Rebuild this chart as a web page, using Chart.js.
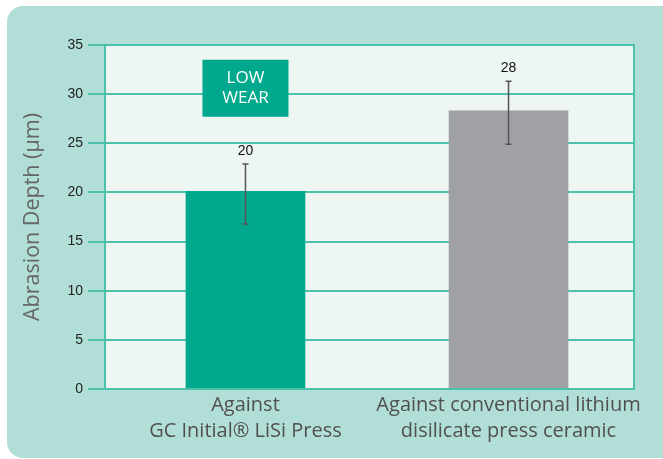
<!DOCTYPE html>
<html>
<head>
<meta charset="utf-8">
<script src="https://cdn.jsdelivr.net/npm/chart.js@4.4.1/dist/chart.umd.min.js"></script>
<style>
  html, body { margin: 0; padding: 0; background: #fff; }
  .panel {
    position: absolute; left: 7px; top: 6px; width: 680px; height: 452px;
    background: #b2ded8; border-radius: 16px;
  }
  .wrap { position: absolute; left: 0; top: 0; width: 663px; height: 459px; }
</style>
</head>
<body>
<div class="panel"></div>
<div class="wrap"><canvas id="chart" width="663" height="459"></canvas></div>
<script>
const categories = [
  ['Against', 'GC Initial\u00AE LiSi Press'],
  ['Against conventional lithium', 'disilicate press ceramic']
];
const depth = [20.1, 28.3];
const errLow = [16.8, 24.9];
const errHigh = [22.9, 31.3];
const valueLabels = ['20', '28'];
const barColors = ['#00a88e', '#a0a1a5'];
const yTicks = [0, 5, 10, 15, 20, 25, 30, 35];

const teal = '#4cc2ab';

// plot background, frame, error bars, value labels and the LOW WEAR badge
const extras = {
  id: 'extras',
  beforeDraw(chart) {
    const { ctx, chartArea: a } = chart;
    ctx.save();
    ctx.fillStyle = '#edf6f3';
    ctx.fillRect(a.left, a.top, a.right - a.left, a.bottom - a.top);
    ctx.restore();
  },
  afterDatasetsDraw(chart) {
    const { ctx, chartArea: a, scales: { x, y } } = chart;
    ctx.save();
    ctx.strokeStyle = teal;
    ctx.lineWidth = 2;
    ctx.strokeRect(a.left, a.top, a.right - a.left, a.bottom - a.top);

    ctx.strokeStyle = '#555';
    ctx.lineWidth = 1.5;
    depth.forEach((v, i) => {
      const px = x.getPixelForValue(i);
      const hi = y.getPixelForValue(errHigh[i]);
      const lo = y.getPixelForValue(errLow[i]);
      ctx.beginPath();
      ctx.moveTo(px, hi); ctx.lineTo(px, lo);
      ctx.moveTo(px - 3, hi); ctx.lineTo(px + 3, hi);
      ctx.moveTo(px - 3, lo); ctx.lineTo(px + 3, lo);
      ctx.stroke();
      ctx.fillStyle = '#111';
      ctx.font = '14px "Liberation Sans", Arial, sans-serif';
      ctx.textAlign = 'center';
      ctx.textBaseline = 'middle';
      ctx.fillText(valueLabels[i], px, hi - 13);
    });

    const bx = x.getPixelForValue(0);
    const by = y.getPixelForValue(30.6);
    ctx.fillStyle = '#00a88e';
    ctx.fillRect(bx - 43, by - 28.5, 86, 57);
    ctx.fillStyle = '#fff';
    ctx.font = '17px "Open Sans", sans-serif';
    ctx.fillText('LOW', bx, by - 10);
    ctx.fillText('WEAR', bx, by + 10);
    ctx.restore();
  }
};

new Chart(document.getElementById('chart'), {
  type: 'bar',
  data: {
    datasets: [{
      data: depth.map((v, i) => ({ x: i, y: v })),
      backgroundColor: barColors,
      barThickness: 119,
      borderWidth: 0
    }]
  },
  options: {
    responsive: false,
    animation: false,
    layout: { padding: { top: 45, right: 29, left: 0, bottom: 0 } },
    plugins: { legend: { display: false }, tooltip: { enabled: false } },
    scales: {
      x: {
        type: 'linear',
        offset: false,
        min: -0.534,
        max: 1.477,
        afterBuildTicks(axis) { axis.ticks = [{ value: 0 }, { value: 1 }]; },
        afterFit(axis) { axis.height = 70; },
        grid: { display: false, offset: false },
        border: { display: false },
        ticks: {
          callback: (v) => categories[v],
          color: '#505050',
          font: { family: 'Open Sans', size: 20, lineHeight: 1.3 },
          padding: -5,
          maxRotation: 0,
          autoSkip: false
        }
      },
      y: {
        min: 0,
        max: 35,
        afterBuildTicks(axis) { axis.ticks = yTicks.map(v => ({ value: v })); },
        afterFit(axis) { axis.width = 105; },
        grid: { color: teal, lineWidth: 2, tickLength: 17 },
        border: { color: teal, width: 2 },
        ticks: {
          color: '#222',
          font: { family: 'Liberation Sans', size: 14 },
          padding: 5
        },
        title: {
          display: true,
          text: 'Abrasion Depth (\u00B5m)',
          color: '#666',
          font: { family: 'Open Sans', size: 21.5 },
          padding: { top: 20, bottom: 0 }
        }
      }
    }
  },
  plugins: [extras]
});
</script>
</body>
</html>
